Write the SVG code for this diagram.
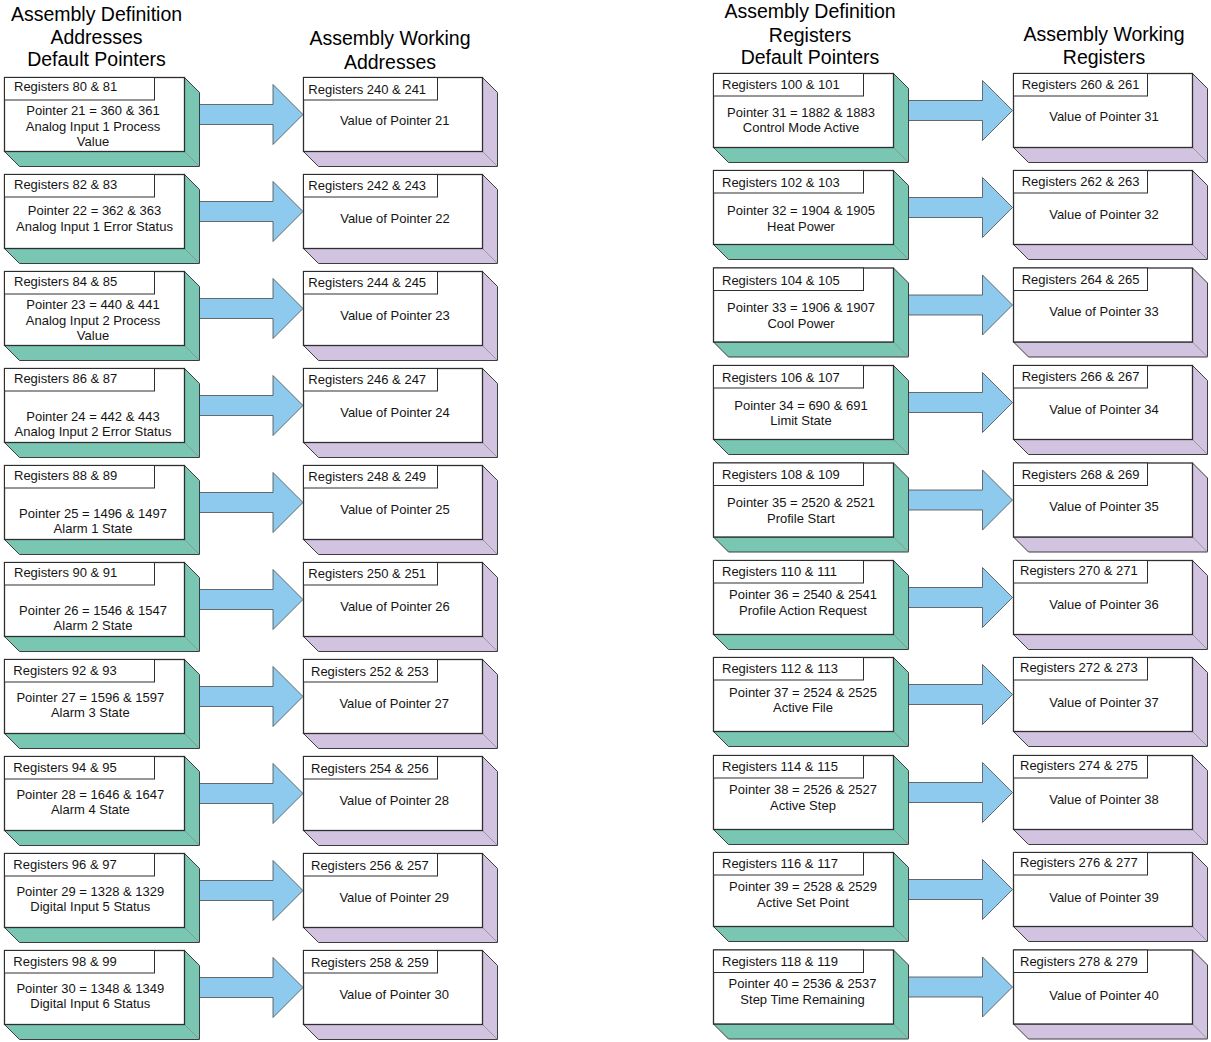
<svg xmlns="http://www.w3.org/2000/svg" width="1211" height="1042" viewBox="0 0 1211 1042">
<style>
.g{fill:#79C7B3;stroke:#3d3d3d;stroke-width:1}
.p{fill:#D2C4E0;stroke:#3d3d3d;stroke-width:1}
.diag{stroke:#8a8a8a;stroke-width:0.8}
.front{fill:#fff;stroke:#2e2e2e;stroke-width:1.3}
.tab{fill:#fff;stroke:#2e2e2e;stroke-width:1}
.arrow{fill:#8DCAEE;stroke:#4a4a4a;stroke-width:0.8}
text{font-family:"Liberation Sans",Arial,Helvetica,sans-serif;font-size:13px;fill:#141414}
.c{text-anchor:middle}
.h{font-size:19.5px;fill:#000}
</style>
<defs>
<g id="gbox">
<polygon class="g" points="180,0 195,15 195,89 15,89 0,74 180,74"/>
<line class="diag" x1="180" y1="74" x2="195" y2="89"/>
<rect class="front" x="0" y="0" width="180" height="74"/>
<rect class="tab" x="0" y="0" width="150" height="22.5"/>
</g>
<g id="pbox">
<polygon class="p" points="179,0 194,15 194,89 15,89 0,74 179,74"/>
<line class="diag" x1="179" y1="74" x2="194" y2="89"/>
<rect class="front" x="0" y="0" width="179" height="74"/>
<rect class="tab" x="0" y="0" width="134" height="22.5"/>
</g>
<polygon id="arr" class="arrow" points="0,27 74,27 74,7 104,37 74,67 74,47 0,47"/>
</defs>

<g id="headers">
<text class="h c" x="96.5" y="21.3">Assembly Definition</text>
<text class="h c" x="96.5" y="43.5">Addresses</text>
<text class="h c" x="96.5" y="66.3">Default Pointers</text>
<text class="h c" x="390" y="45">Assembly Working</text>
<text class="h c" x="390" y="68.5">Addresses</text>
<text class="h c" x="810" y="18">Assembly Definition</text>
<text class="h c" x="810" y="42">Registers</text>
<text class="h c" x="810" y="64">Default Pointers</text>
<text class="h c" x="1104" y="40.5">Assembly Working</text>
<text class="h c" x="1104" y="64">Registers</text>
</g>

<g id="connectors">
<use href="#arr" x="199" y="77.5"/>
<use href="#arr" x="199" y="174.5"/>
<use href="#arr" x="199" y="271.5"/>
<use href="#arr" x="199" y="368.5"/>
<use href="#arr" x="199" y="465.5"/>
<use href="#arr" x="199" y="562.5"/>
<use href="#arr" x="199" y="659.5"/>
<use href="#arr" x="199" y="756.5"/>
<use href="#arr" x="199" y="853.5"/>
<use href="#arr" x="199" y="950.5"/>
<use href="#arr" x="908.5" y="73.5"/>
<use href="#arr" x="908.5" y="170.5"/>
<use href="#arr" x="908.5" y="268"/>
<use href="#arr" x="908.5" y="365.5"/>
<use href="#arr" x="908.5" y="463"/>
<use href="#arr" x="908.5" y="560.5"/>
<use href="#arr" x="908.5" y="657.5"/>
<use href="#arr" x="908.5" y="755.5"/>
<use href="#arr" x="908.5" y="852.5"/>
<use href="#arr" x="908.5" y="950"/>
</g>

<!-- Left definition boxes -->
<g id="def-80"><use href="#gbox" x="4.5" y="77.5"/><text x="14" y="91">Registers 80 &amp; 81</text><text class="c" x="93" y="114.5">Pointer 21 = 360 &amp; 361</text><text class="c" x="93" y="130.7">Analog Input 1 Process</text><text class="c" x="93" y="145.7">Value</text></g>
<g id="def-82"><use href="#gbox" x="4.5" y="174.5"/><text x="14" y="188.5">Registers 82 &amp; 83</text><text class="c" x="94.5" y="215">Pointer 22 = 362 &amp; 363</text><text class="c" x="94.5" y="231">Analog Input 1 Error Status</text></g>
<g id="def-84"><use href="#gbox" x="4.5" y="271.5"/><text x="14" y="285.7">Registers 84 &amp; 85</text><text class="c" x="93" y="309">Pointer 23 = 440 &amp; 441</text><text class="c" x="93" y="325">Analog Input 2 Process</text><text class="c" x="93" y="340">Value</text></g>
<g id="def-86"><use href="#gbox" x="4.5" y="368.5"/><text x="14" y="382.7">Registers 86 &amp; 87</text><text class="c" x="93" y="420.7">Pointer 24 = 442 &amp; 443</text><text class="c" x="93" y="435.7">Analog Input 2 Error Status</text></g>
<g id="def-88"><use href="#gbox" x="4.5" y="465.5"/><text x="14" y="479.7">Registers 88 &amp; 89</text><text class="c" x="93" y="517.7">Pointer 25 = 1496 &amp; 1497</text><text class="c" x="93" y="532.7">Alarm 1 State</text></g>
<g id="def-90"><use href="#gbox" x="4.5" y="562.5"/><text x="14" y="577">Registers 90 &amp; 91</text><text class="c" x="93" y="615">Pointer 26 = 1546 &amp; 1547</text><text class="c" x="93" y="629.7">Alarm 2 State</text></g>
<g id="def-92"><use href="#gbox" x="4.5" y="659.5"/><text x="13.3" y="675">Registers 92 &amp; 93</text><text class="c" x="90.3" y="702">Pointer 27 = 1596 &amp; 1597</text><text class="c" x="90.3" y="717">Alarm 3 State</text></g>
<g id="def-94"><use href="#gbox" x="4.5" y="756.5"/><text x="13.3" y="771.7">Registers 94 &amp; 95</text><text class="c" x="90.3" y="798.7">Pointer 28 = 1646 &amp; 1647</text><text class="c" x="90.3" y="813.7">Alarm 4 State</text></g>
<g id="def-96"><use href="#gbox" x="4.5" y="853.5"/><text x="13.3" y="868.7">Registers 96 &amp; 97</text><text class="c" x="90.3" y="895.7">Pointer 29 = 1328 &amp; 1329</text><text class="c" x="90.3" y="910.7">Digital Input 5 Status</text></g>
<g id="def-98"><use href="#gbox" x="4.5" y="950.5"/><text x="13.3" y="966">Registers 98 &amp; 99</text><text class="c" x="90.3" y="993.3">Pointer 30 = 1348 &amp; 1349</text><text class="c" x="90.3" y="1008.3">Digital Input 6 Status</text></g>

<!-- Left working boxes -->
<g id="work-240"><use href="#pbox" x="303.5" y="77.5"/><text x="308.3" y="93.5">Registers 240 &amp; 241</text><text class="c" x="394.7" y="125">Value of Pointer 21</text></g>
<g id="work-242"><use href="#pbox" x="303.5" y="174.5"/><text x="308.3" y="190">Registers 242 &amp; 243</text><text class="c" x="395" y="223.3">Value of Pointer 22</text></g>
<g id="work-244"><use href="#pbox" x="303.5" y="271.5"/><text x="308.3" y="287.3">Registers 244 &amp; 245</text><text class="c" x="395" y="320.3">Value of Pointer 23</text></g>
<g id="work-246"><use href="#pbox" x="303.5" y="368.5"/><text x="308.3" y="384.3">Registers 246 &amp; 247</text><text class="c" x="395" y="417.3">Value of Pointer 24</text></g>
<g id="work-248"><use href="#pbox" x="303.5" y="465.5"/><text x="308.3" y="481.3">Registers 248 &amp; 249</text><text class="c" x="395" y="514.3">Value of Pointer 25</text></g>
<g id="work-250"><use href="#pbox" x="303.5" y="562.5"/><text x="308.3" y="578">Registers 250 &amp; 251</text><text class="c" x="395" y="611.3">Value of Pointer 26</text></g>
<g id="work-252"><use href="#pbox" x="303.5" y="659.5"/><text x="311" y="676.3">Registers 252 &amp; 253</text><text class="c" x="394.2" y="708.3">Value of Pointer 27</text></g>
<g id="work-254"><use href="#pbox" x="303.5" y="756.5"/><text x="311" y="773.3">Registers 254 &amp; 256</text><text class="c" x="394.2" y="805.3">Value of Pointer 28</text></g>
<g id="work-256"><use href="#pbox" x="303.5" y="853.5"/><text x="311" y="870.3">Registers 256 &amp; 257</text><text class="c" x="394.2" y="902.3">Value of Pointer 29</text></g>
<g id="work-258"><use href="#pbox" x="303.5" y="950.5"/><text x="311" y="966.7">Registers 258 &amp; 259</text><text class="c" x="394.2" y="999.3">Value of Pointer 30</text></g>

<!-- Right definition boxes -->
<g id="def-100"><use href="#gbox" x="713.5" y="73.5"/><text x="722" y="89.3">Registers 100 &amp; 101</text><text class="c" x="801" y="116.7">Pointer 31 = 1882 &amp; 1883</text><text class="c" x="801" y="132.3">Control Mode Active</text></g>
<g id="def-102"><use href="#gbox" x="713.5" y="170.5"/><text x="722" y="187">Registers 102 &amp; 103</text><text class="c" x="801" y="215">Pointer 32 = 1904 &amp; 1905</text><text class="c" x="801" y="231">Heat Power</text></g>
<g id="def-104"><use href="#gbox" x="713.5" y="268"/><text x="722" y="285">Registers 104 &amp; 105</text><text class="c" x="801" y="312">Pointer 33 = 1906 &amp; 1907</text><text class="c" x="801" y="328">Cool Power</text></g>
<g id="def-106"><use href="#gbox" x="713.5" y="365.5"/><text x="722" y="381.7">Registers 106 &amp; 107</text><text class="c" x="801" y="410">Pointer 34 = 690 &amp; 691</text><text class="c" x="801" y="424.7">Limit State</text></g>
<g id="def-108"><use href="#gbox" x="713.5" y="463"/><text x="722" y="479">Registers 108 &amp; 109</text><text class="c" x="801" y="507">Pointer 35 = 2520 &amp; 2521</text><text class="c" x="801" y="523">Profile Start</text></g>
<g id="def-110"><use href="#gbox" x="713.5" y="560.5"/><text x="722" y="576">Registers 110 &amp; 111</text><text class="c" x="803" y="599">Pointer 36 = 2540 &amp; 2541</text><text class="c" x="803" y="615">Profile Action Request</text></g>
<g id="def-112"><use href="#gbox" x="713.5" y="657.5"/><text x="722" y="673">Registers 112 &amp; 113</text><text class="c" x="803" y="697">Pointer 37 = 2524 &amp; 2525</text><text class="c" x="803" y="712">Active File</text></g>
<g id="def-114"><use href="#gbox" x="713.5" y="755.5"/><text x="722" y="771">Registers 114 &amp; 115</text><text class="c" x="803" y="794">Pointer 38 = 2526 &amp; 2527</text><text class="c" x="803" y="810">Active Step</text></g>
<g id="def-116"><use href="#gbox" x="713.5" y="852.5"/><text x="722" y="868.3">Registers 116 &amp; 117</text><text class="c" x="803" y="891">Pointer 39 = 2528 &amp; 2529</text><text class="c" x="803" y="906.7">Active Set Point</text></g>
<g id="def-118"><use href="#gbox" x="713.5" y="950"/><text x="722" y="966">Registers 118 &amp; 119</text><text class="c" x="802.5" y="988.3">Pointer 40 = 2536 &amp; 2537</text><text class="c" x="802.5" y="1004.3">Step Time Remaining</text></g>

<!-- Right working boxes -->
<g id="work-260"><use href="#pbox" x="1013.5" y="73.5"/><text x="1021.7" y="89">Registers 260 &amp; 261</text><text class="c" x="1104" y="121">Value of Pointer 31</text></g>
<g id="work-262"><use href="#pbox" x="1013.5" y="170.5"/><text x="1021.7" y="186">Registers 262 &amp; 263</text><text class="c" x="1104" y="219">Value of Pointer 32</text></g>
<g id="work-264"><use href="#pbox" x="1013.5" y="268"/><text x="1021.7" y="284">Registers 264 &amp; 265</text><text class="c" x="1104" y="316">Value of Pointer 33</text></g>
<g id="work-266"><use href="#pbox" x="1013.5" y="365.5"/><text x="1021.7" y="381">Registers 266 &amp; 267</text><text class="c" x="1104" y="414">Value of Pointer 34</text></g>
<g id="work-268"><use href="#pbox" x="1013.5" y="463"/><text x="1021.7" y="479">Registers 268 &amp; 269</text><text class="c" x="1104" y="511">Value of Pointer 35</text></g>
<g id="work-270"><use href="#pbox" x="1013.5" y="560.5"/><text x="1020" y="575">Registers 270 &amp; 271</text><text class="c" x="1104" y="609">Value of Pointer 36</text></g>
<g id="work-272"><use href="#pbox" x="1013.5" y="657.5"/><text x="1020" y="672">Registers 272 &amp; 273</text><text class="c" x="1104" y="707">Value of Pointer 37</text></g>
<g id="work-274"><use href="#pbox" x="1013.5" y="755.5"/><text x="1020" y="770">Registers 274 &amp; 275</text><text class="c" x="1104" y="804">Value of Pointer 38</text></g>
<g id="work-276"><use href="#pbox" x="1013.5" y="852.5"/><text x="1020" y="867">Registers 276 &amp; 277</text><text class="c" x="1104" y="902">Value of Pointer 39</text></g>
<g id="work-278"><use href="#pbox" x="1013.5" y="950"/><text x="1020" y="966">Registers 278 &amp; 279</text><text class="c" x="1104" y="1000">Value of Pointer 40</text></g>
</svg>
